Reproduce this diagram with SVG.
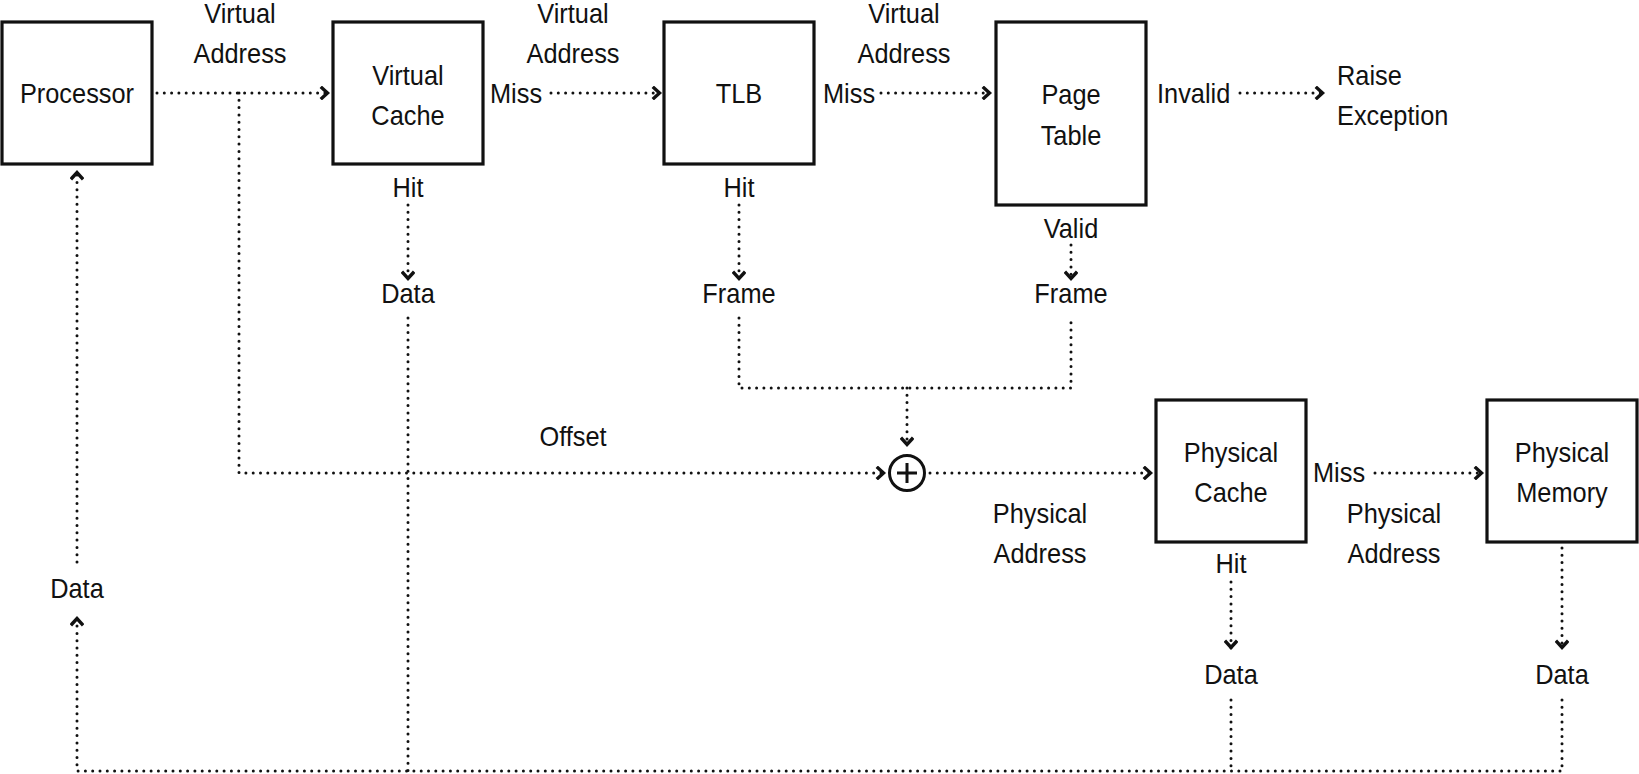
<svg xmlns="http://www.w3.org/2000/svg" width="1639" height="774" viewBox="0 0 1639 774">
<style>
text{font-family:"Liberation Sans",Arial,sans-serif;font-size:28.5px;fill:#111;text-anchor:middle;transform-box:fill-box;transform-origin:center;transform:scaleX(0.89)}
.st{text-anchor:start;transform-origin:left center}
.box{fill:#fff;stroke:#111;stroke-width:3.2}
.c{fill:none;stroke:#111;stroke-width:3;stroke-linecap:round;stroke-dasharray:0 7.3}
.ar{marker-end:url(#ah)}
</style>
<defs>
<marker id="ah" markerUnits="userSpaceOnUse" viewBox="0 0 12 14" markerWidth="12" markerHeight="14" refX="9" refY="7" orient="auto">
<path d="M3,2 L8.5,7 L3,12" fill="none" stroke="#111" stroke-width="3.4" stroke-linecap="square"/>
</marker>
</defs>
<rect width="1639" height="774" fill="#fff"/>
<g id="connectors">
<path class="c ar" d="M157,93 H328"/>
<path class="c ar" d="M239,93 V473 H884"/>
<path class="c ar" d="M551,93 H660"/>
<path class="c ar" d="M881,93 H990"/>
<path class="c ar" d="M1240,93 H1323"/>
<path class="c ar" d="M408,205 V279"/>
<path class="c ar" d="M739,205 V279"/>
<path class="c ar" d="M1071,245 V279"/>
<path class="c" d="M739,318 V388 H1071 V318"/>
<path class="c ar" d="M907,388 V445"/>
<path class="c ar" d="M930,473 H1151"/>
<path class="c ar" d="M1375,473 H1482"/>
<path class="c ar" d="M1231,582 V648"/>
<path class="c ar" d="M1562,548 V648"/>
<path class="c" d="M408,318 V771"/>
<path class="c" d="M1231,700 V771"/>
<path class="c ar" d="M1562,700 V771 H77 V618"/>
<path class="c ar" d="M77,562 V172"/>
</g>
<g id="processor"><rect class="box" x="2" y="22" width="150" height="142"/><text x="77" y="103">Processor</text></g>
<g id="virtual-cache"><rect class="box" x="333" y="22" width="150" height="142"/><text x="408" y="85">Virtual</text><text x="408" y="125">Cache</text></g>
<g id="tlb"><rect class="box" x="664" y="22" width="150" height="142"/><text x="739" y="103">TLB</text></g>
<g id="page-table"><rect class="box" x="996" y="22" width="150" height="183"/><text x="1071" y="104">Page</text><text x="1071" y="145">Table</text></g>
<g id="physical-cache"><rect class="box" x="1156" y="400" width="150" height="142"/><text x="1231" y="462">Physical</text><text x="1231" y="502">Cache</text></g>
<g id="physical-memory"><rect class="box" x="1487" y="400" width="150" height="142"/><text x="1562" y="462">Physical</text><text x="1562" y="502">Memory</text></g>
<g id="adder"><circle cx="907" cy="473" r="17.5" fill="#fff" stroke="#111" stroke-width="3"/><path d="M897,473 H917 M907,463 V483" stroke="#111" stroke-width="3"/></g>
<g id="labels">
<text x="240" y="23">Virtual</text><text x="240" y="63">Address</text>
<text x="573" y="23">Virtual</text><text x="573" y="63">Address</text>
<text x="904" y="23">Virtual</text><text x="904" y="63">Address</text>
<text class="st" x="490" y="103">Miss</text>
<text class="st" x="823" y="103">Miss</text>
<text class="st" x="1157" y="103">Invalid</text>
<text class="st" x="1337" y="85">Raise</text>
<text class="st" x="1337" y="125">Exception</text>
<text x="408" y="197">Hit</text>
<text x="408" y="303">Data</text>
<text x="739" y="197">Hit</text>
<text x="739" y="303">Frame</text>
<text x="1071" y="238">Valid</text>
<text x="1071" y="303">Frame</text>
<text x="573" y="446">Offset</text>
<text x="1040" y="523">Physical</text><text x="1040" y="563">Address</text>
<text class="st" x="1313" y="482">Miss</text>
<text x="1394" y="523">Physical</text><text x="1394" y="563">Address</text>
<text x="1231" y="573">Hit</text>
<text x="1231" y="684">Data</text>
<text x="1562" y="684">Data</text>
<text x="77" y="598">Data</text>
</g>
</svg>
